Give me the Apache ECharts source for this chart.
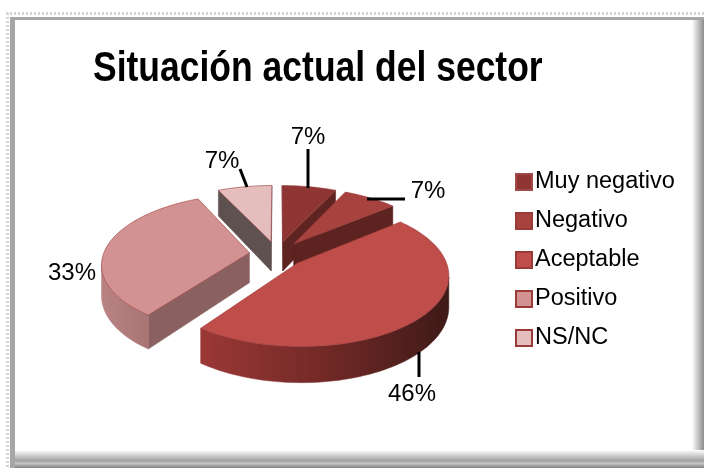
<html>
<head>
    <meta charset="utf-8">
    <script src="https://cdn.jsdelivr.net/npm/echarts@6/dist/echarts.min.js"></script>
</head>
<body style="margin:0;background:#fff">
<div id="main" style="width:704px;height:468px"></div>
<script>
    var chartTitle = 'Situación actual del sector';
    var categories = ['Muy negativo', 'Negativo', 'Aceptable', 'Positivo', 'NS/NC'];
    var shares = [7, 7, 46, 33, 7];
    var shareLabels = ['7%', '7%', '46%', '33%', '7%'];

    // slice look, same order as categories
    var topColors = ['#8f3634', '#a8423f', '#bf4e4b', '#d39292', '#e4bdbc'];
    var legendBorders = ['#a04a48', '#9a3b39', '#9a3b39', '#9a3b39', '#9a3b39'];
    var sideColors = ['#5e2422', '#5c2321', '#7a2c2a', '#8a6160', '#5f5150'];
    var arcColors = [
        ['#7a2c2a', '#7a2c2a'],
        ['#6a2725', '#6a2725'],
        ['#9b3836', '#722926', '#3e1a18'],
        ['#b98382', '#a87574'],
        ['#5f5150', '#5f5150']
    ];
    // back to front
    var drawOrder = [4, 0, 1, 3, 2];
    // label centre and leader line, in page pixels
    var labelAt = [[308, 137], [428, 191], [412, 394], [72, 273], [222, 161]];
    var leaders = [
        [[308, 149], [308, 188]],
        [[367, 199], [405, 199]],
        [[419, 352], [419, 377]],
        null,
        [[240, 169], [247, 187]]
    ];

    var CX = 277, CY = 254;
    var RX = 146, RY = 68;
    var PERSP = 0.15, EXPLODE = 0.19, DEPTH = 30;

    var starts = [];
    shares.reduce(function (sum, v, i) {
        starts[i] = sum;
        return sum + v;
    }, 0);
    var total = shares.reduce(function (a, b) { return a + b; }, 0);

    function project(angle, r, mid, drop) {
        var X = Math.sin(angle) * r + Math.sin(mid) * EXPLODE;
        var Y = -Math.cos(angle) * r - Math.cos(mid) * EXPLODE;
        var s = 1 / (1 - PERSP * Y);
        return [CX + RX * X * s, CY + RY * Y * s + (drop ? DEPTH * s : 0)];
    }

    function face(points, fill) {
        return {
            type: 'polygon',
            shape: {points: points},
            style: {fill: fill, stroke: fill, lineWidth: 0.5}
        };
    }

    function renderSlice(idx) {
        return function (params, api) {
            var value = api.value(0);
            var a0 = starts[idx] / total * Math.PI * 2;
            var a1 = a0 + value / total * Math.PI * 2;
            var mid = (a0 + a1) / 2;
            var tip = project(0, 0, mid, false);
            var tipLow = project(0, 0, mid, true);
            var arc = [], arcLow = [];
            var steps = Math.max(6, Math.round(value * 2));
            for (var i = 0; i <= steps; i++) {
                var a = a0 + (a1 - a0) * i / steps;
                arc.push(project(a, 1, mid, false));
                arcLow.push(project(a, 1, mid, true));
            }
            var children = [];
            var last = arc.length - 1;
            // a wall shows only where the outline runs leftwards on screen
            if (arc[0][0] < tip[0] - 0.5) {
                children.push(face([tip, arc[0], arcLow[0], tipLow], sideColors[idx]));
            }
            if (tip[0] < arc[last][0] - 0.5) {
                children.push(face([arc[last], tip, tipLow, arcLow[last]], sideColors[idx]));
            }
            var runTop = [], runLow = [];
            for (var j = 0; j <= last; j++) {
                var leftward = (j < last && arc[j + 1][0] < arc[j][0]) || (j > 0 && arc[j][0] < arc[j - 1][0]);
                if (leftward) {
                    runTop.push(arc[j]);
                    runLow.unshift(arcLow[j]);
                }
            }
            if (runTop.length > 1) {
                var stops = arcColors[idx].map(function (c, n, all) {
                    return {offset: n / (all.length - 1), color: c};
                });
                children.push(face(runTop.concat(runLow), new echarts.graphic.LinearGradient(0, 0, 1, 0, stops)));
            }
            children.push({
                type: 'polygon',
                shape: {points: [tip].concat(arc)},
                style: {fill: topColors[idx], stroke: '#9a3b39', lineWidth: 0.6}
            });
            return {type: 'group', children: children};
        };
    }

    var chart = echarts.init(document.getElementById('main'));

    var series = categories.map(function (name, i) {
        return {
            name: name,
            type: 'custom',
            coordinateSystem: 'none',
            z: 2 + drawOrder.indexOf(i),
            silent: true,
            renderItem: renderSlice(i),
            itemStyle: {color: topColors[i], borderColor: legendBorders[i], borderWidth: 2},
            data: [[shares[i]]]
        };
    });

    var labelGraphics = [];
    shareLabels.forEach(function (text, i) {
        labelGraphics.push({
            type: 'text',
            z: 20,
            style: {
                x: labelAt[i][0], y: labelAt[i][1], text: text,
                align: 'center', verticalAlign: 'middle',
                font: '24px "Liberation Sans"', fill: '#000'
            }
        });
        if (leaders[i]) {
            labelGraphics.push({
                type: 'polyline',
                z: 20,
                shape: {points: leaders[i]},
                style: {stroke: '#000', lineWidth: 3, fill: null}
            });
        }
    });

    // the original title is squeezed sideways, so a plain title option can't match it
    var titleGraphic = {
        type: 'text',
        z: 20,
        x: 93,
        y: 69,
        scaleX: 0.845,
        style: {
            x: 0, y: 0, text: chartTitle,
            align: 'left', verticalAlign: 'middle',
            font: 'bold 42px "Liberation Sans"', fill: '#000'
        }
    };

    var frame = [
        {type: 'line', z: 1, shape: {x1: 6, y1: 13.5, x2: 704, y2: 13.5}, style: {stroke: '#d4d4d4', lineWidth: 3, lineDash: [2, 2]}},
        {type: 'line', z: 1, shape: {x1: 7.5, y1: 13, x2: 7.5, y2: 468}, style: {stroke: '#d4d4d4', lineWidth: 3, lineDash: [2, 2]}},
        {type: 'rect', z: 1, shape: {x: 10, y: 17, width: 694, height: 3}, style: {fill: '#a6a6a6'}},
        {type: 'rect', z: 1, shape: {x: 10, y: 17, width: 5, height: 451}, style: {fill: '#a6a6a6'}},
        {
            type: 'rect', z: 1, shape: {x: 692, y: 20, width: 12, height: 448},
            style: {fill: new echarts.graphic.LinearGradient(0, 0, 1, 0, [
                {offset: 0, color: '#ffffff'}, {offset: 1, color: '#8c8c8c'}
            ])}
        },
        {
            type: 'rect', z: 1, shape: {x: 15, y: 450, width: 689, height: 18},
            style: {fill: new echarts.graphic.LinearGradient(0, 0, 0, 1, [
                {offset: 0, color: '#ffffff'},
                {offset: 0.6, color: '#a0a0a0'},
                {offset: 0.75, color: '#c4c4c4'},
                {offset: 1, color: '#808080'}
            ])}
        }
    ];

    chart.setOption({
        animation: false,
        backgroundColor: '#fff',
        legend: {
            orient: 'vertical',
            left: 510,
            top: 165,
            itemWidth: 16,
            itemHeight: 16,
            itemGap: 15,
            icon: 'rect',
            selectedMode: false,
            textStyle: {fontFamily: 'Liberation Sans', fontSize: 23.5, color: '#000', padding: [0, 0, 0, -2]},
            data: categories
        },
        graphic: {elements: frame.concat(labelGraphics, [titleGraphic])},
        series: series
    });
</script>
</body>
</html>
